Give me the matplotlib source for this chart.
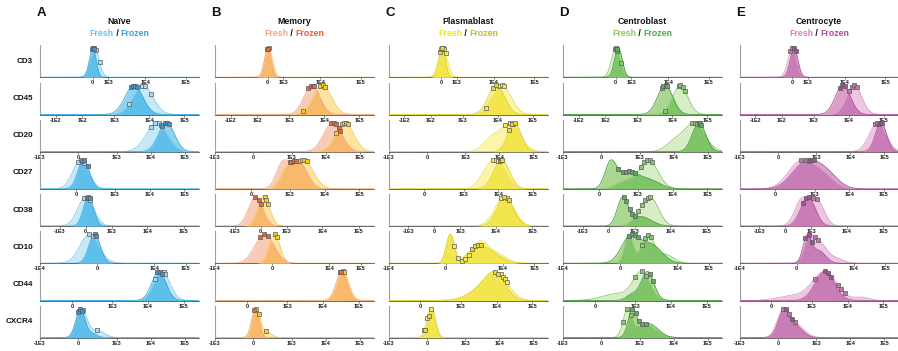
import numpy as np
import matplotlib
matplotlib.use("Agg")
import matplotlib.pyplot as plt

plt.rcParams['font.family'] = ['Liberation Sans', 'DejaVu Sans']

# ---------------------------------------------------------------- data
MARKERS = ["CD3", "CD45", "CD20", "CD27", "CD38", "CD10", "CD44", "CXCR4"]
POPULATIONS = ["Naïve", "Memory", "Plasmablast", "Centroblast", "Centrocyte"]
PANEL_LETTERS = ["A", "B", "C", "D", "E"]

# arcsinh (biexponential-like) display settings per marker
COFACTOR = [1000, 100, 150, 150, 400, 300, 150, 150]
AXIS_MIN = [-10000, -330, -1000, -800, -3600, -10000, -570, -1000]
AXIS_MAX = [210000, 262144, 262144, 262144, 262144, 262144, 262144, 262144]

TICK_VALUES = [
    [0, 1e3, 1e4, 1e5],
    [-1e2, 1e2, 1e3, 1e4, 1e5],
    [-1e3, 0, 1e3, 1e4, 1e5],
    [0, 1e3, 1e4, 1e5],
    [-1e3, 0, 1e3, 1e4, 1e5],
    [-1e4, 0, 1e4, 1e5],
    [0, 1e3, 1e4, 1e5],
    [-1e3, 0, 1e3, 1e4, 1e5],
]
TICK_LABELS = [
    ["0", "1E3", "1E4", "1E5"],
    ["-1E2", "1E2", "1E3", "1E4", "1E5"],
    ["-1E3", "0", "1E3", "1E4", "1E5"],
    ["0", "1E3", "1E4", "1E5"],
    ["-1E3", "0", "1E3", "1E4", "1E5"],
    ["-1E4", "0", "1E4", "1E5"],
    ["0", "1E3", "1E4", "1E5"],
    ["-1E3", "0", "1E3", "1E4", "1E5"],
]

# histogram modes per marker: (intensity, spread in display channels /1000, weight)
NAIVE_FRESH = [
    [(100, 28, 1.0)],
    [(6500, 62, 1.0)],
    [(15000, 66, 1.0)],
    [(50, 50, 1.0)],
    [(0, 50, 1.0)],
    [(-180, 60, 1.0)],
    [(24000, 50, 1.0)],
    [(30, 34, 1.0), (250, 45, 0.25)],
]
NAIVE_FROZEN = [
    [(0, 21, 1.0)],
    [(3600, 56, 1.0)],
    [(29000, 50, 1.0)],
    [(80, 36, 1.0)],
    [(70, 32, 1.0)],
    [(-60, 36, 1.0)],
    [(20000, 45, 1.0)],
    [(20, 28, 1.0), (150, 34, 0.15)],
]
NAIVE_FRESH_PTS = [[100, 200, 400], [2600, 6000, 7500, 11000], [10000, 13000, 17000, 20000],
                   [20, 50, 90], [-50, 50, 100], [-180, -100], [16000, 27000, 30000], [10, 50, 250]]
NAIVE_FROZEN_PTS = [[-50, 0, 50], [2900, 3300, 3800, 4300], [22000, 26000, 30000, 35000],
                    [60, 90, 130], [30, 70, 110], [-60, -20], [18000, 21000, 24000], [0, 20, 40]]

MEMORY_FRESH = [
    [(50, 24, 1.0)],
    [(8700, 57, 1.0)],
    [(36000, 57, 1.0)],
    [(800, 40, 0.6), (2500, 60, 1.0)],
    [(75, 38, 1.0)],
    [(50, 34, 1.0)],
    [(36000, 36, 1.0)],
    [(30, 24, 1.0), (150, 32, 0.2)],
]
MEMORY_FROZEN = [
    [(0, 21, 1.0)],
    [(4400, 50, 1.0)],
    [(16000, 57, 1.0)],
    [(600, 40, 0.9), (1800, 52, 1.0)],
    [(-130, 44, 1.0)],
    [(-180, 60, 1.0)],
    [(33000, 35, 1.0)],
    [(20, 24, 1.0)],
]
MEMORY_FRESH_PTS = [[0, 80], [2500, 7500, 9000, 10500], [20000, 30000, 35000, 40000, 45000],
                    [1800, 2200, 2600, 3000], [100, 150, 200], [50, 100], [35000, 38000], [30, 60, 150]]
MEMORY_FROZEN_PTS = [[-30, 30], [3500, 4000, 4600, 5000], [14000, 17000, 20000, 24000, 27000],
                     [1000, 1100, 1300, 1500], [-150, -50, 0], [-300, -200, -100], [30000, 32000], [10]]

PLASMABLAST_FRESH = [
    [(100, 28, 1.0)],
    [(13000, 58, 1.0)],
    [(22000, 60, 1.0), (6000, 52, 0.45)],
    [(9000, 58, 1.0), (4000, 44, 0.3)],
    [(17000, 60, 1.0)],
    [(100, 25, 0.95), (1800, 50, 0.65), (6000, 63, 0.3)],
    [(10000, 72, 1.0), (3000, 78, 0.3)],
    [(40, 27, 1.0)],
]
PLASMABLAST_FROZEN = [
    [(50, 21, 1.0)],
    [(9000, 52, 1.0)],
    [(28000, 42, 1.0)],
    [(12500, 50, 1.0)],
    [(18000, 52, 1.0)],
    [(100, 25, 1.0), (1500, 63, 0.55), (5000, 63, 0.25)],
    [(9000, 65, 1.0), (3000, 78, 0.3)],
    [(50, 24, 1.0)],
]
PLASMABLAST_FRESH_PTS = [[80, 150, 250], [4500, 11000, 13000, 15000], [15000, 21000, 26000],
                         [7000, 8500, 10000], [14000, 20000], [200, 300, 450, 600, 800],
                         [13000, 15000, 17000, 19000], [-30, 0, 40]]
PLASMABLAST_FROZEN_PTS = [[-50, 0, 50], [7000, 9000], [20000, 24000, 30000],
                          [11000, 12000, 13000], [17000, 23000], [1000, 1300, 1600, 2000],
                          [9000, 11000], [-15, 20]]

CENTROBLAST_FRESH = [
    [(0, 27, 1.0)],
    [(16700, 48, 1.0)],
    [(40000, 66, 1.0), (10000, 52, 0.3)],
    [(2000, 60, 1.0), (400, 55, 0.25)],
    [(2800, 52, 1.0), (1200, 40, 0.2)],
    [(200, 26, 1.0), (1100, 40, 0.95), (4000, 52, 0.3)],
    [(1500, 52, 1.0), (300, 95, 0.25)],
    [(420, 27, 1.0), (1500, 65, 0.5)],
]
CENTROBLAST_FROZEN = [
    [(150, 24, 1.0)],
    [(6200, 48, 1.0)],
    [(55000, 42, 1.0)],
    [(130, 36, 1.0), (500, 60, 0.6), (2000, 70, 0.35)],
    [(400, 34, 1.0), (1500, 65, 0.35)],
    [(250, 58, 0.75), (1500, 65, 0.5)],
    [(2200, 40, 1.0), (800, 34, 0.2)],
    [(600, 27, 0.9), (1800, 60, 0.5)],
]
CENTROBLAST_FRESH_PTS = [[-50, 0, 300], [6000, 15000, 17000, 20000, 23000], [35000, 42000, 48000],
                         [1200, 1500, 1800, 2200, 2600], [1250, 1600, 2000, 2400, 2800],
                         [700, 900, 1100, 1400], [1000, 1500, 2000], [300, 420, 550]]
CENTROBLAST_FROZEN_PTS = [[50, 100], [5000, 5500, 6500, 7000], [55000, 60000, 65000],
                          [250, 350, 450, 550, 650, 800], [450, 550, 700, 850, 1000],
                          [200, 300, 400, 500], [2600, 3200], [600, 750, 950, 1200, 1500]]

CENTROCYTE_FRESH = [
    [(0, 27, 1.0)],
    [(14000, 48, 1.0)],
    [(64000, 52, 1.0)],
    [(350, 76, 1.0), (1500, 76, 0.6)],
    [(500, 44, 0.95), (1500, 44, 0.9)],
    [(300, 32, 0.85), (750, 44, 0.8), (2500, 50, 0.2)],
    [(2300, 76, 0.9), (25000, 45, 0.1), (300, 95, 0.15)],
    [(50, 38, 1.0), (220, 55, 0.55)],
]
CENTROCYTE_FROZEN = [
    [(100, 24, 1.0)],
    [(6700, 48, 1.0)],
    [(80000, 35, 1.0)],
    [(500, 82, 0.85), (2000, 76, 0.55)],
    [(800, 46, 1.0)],
    [(250, 26, 1.0), (700, 44, 0.5)],
    [(2300, 60, 1.0)],
    [(60, 36, 1.0), (200, 50, 0.5)],
]
CENTROCYTE_FRESH_PTS = [[-100, 0], [10000, 12000, 14000, 17000], [55000, 62000],
                        [400, 550, 700], [1100, 1500], [550, 700], [1200, 5500, 6500, 8500],
                        [50, 130, 220]]
CENTROCYTE_FROZEN_PTS = [[100, 200], [5500, 6500, 7500], [70000, 78000, 85000],
                         [750, 850, 950], [550, 700, 850], [200, 300, 400], [2300, 2800, 3500],
                         [90, 170]]

POP_DATA = [
    (NAIVE_FRESH, NAIVE_FROZEN, NAIVE_FRESH_PTS, NAIVE_FROZEN_PTS),
    (MEMORY_FRESH, MEMORY_FROZEN, MEMORY_FRESH_PTS, MEMORY_FROZEN_PTS),
    (PLASMABLAST_FRESH, PLASMABLAST_FROZEN, PLASMABLAST_FRESH_PTS, PLASMABLAST_FROZEN_PTS),
    (CENTROBLAST_FRESH, CENTROBLAST_FROZEN, CENTROBLAST_FRESH_PTS, CENTROBLAST_FROZEN_PTS),
    (CENTROCYTE_FRESH, CENTROCYTE_FROZEN, CENTROCYTE_FRESH_PTS, CENTROCYTE_FROZEN_PTS),
]

# ---------------------------------------------------------------- styles
STYLES = [
    dict(fresh_fill='#c6e9f7', frozen_fill='#90d3f0', overlap='#5ec0ea',
         fresh_line='#86cdec', frozen_line='#3daee2',
         fresh_mk='#a5dcf3', frozen_mk='#3f93c8',
         fresh_txt='#5ec6ee', frozen_txt='#3b9fd8'),
    dict(fresh_fill='#fde4a2', frozen_fill='#f8cbb8', overlap='#f9b96a',
         fresh_line='#f6cd62', frozen_line='#f2a88c',
         fresh_mk='#f6d21c', frozen_mk='#e9653a',
         fresh_txt='#f6a27e', frozen_txt='#ef5b2c'),
    dict(fresh_fill='#fbf4aa', frozen_fill='#f6ee80', overlap='#f2e54e',
         fresh_line='#ece06a', frozen_line='#e3d52c',
         fresh_mk='#f5ea5a', frozen_mk='#eadb2c',
         fresh_txt='#f2e41c', frozen_txt='#c8bb2c'),
    dict(fresh_fill='#d7edc6', frozen_fill='#aad890', overlap='#7fc466',
         fresh_line='#8cc872', frozen_line='#4a9f44',
         fresh_mk='#8cc47a', frozen_mk='#66a56a',
         fresh_txt='#8acb52', frozen_txt='#48a948'),
    dict(fresh_fill='#edc6e1', frozen_fill='#dc9fcb', overlap='#c97db6',
         fresh_line='#d9a0cb', frozen_line='#b35a9f',
         fresh_mk='#b97aab', frozen_mk='#9c5590',
         fresh_txt='#df80c4', frozen_txt='#b9449c'),
]

FIG_W, FIG_H = 898, 351
COL_LEFT = [40, 215, 388.5, 563, 739.5]
COL_WIDTH = 159
ROW_BASE0 = 77.3
ROW_STEP = 37.2
PANEL_H = 32

fig = plt.figure(figsize=(FIG_W / 100, FIG_H / 100), dpi=100)


def minor_ticks(lo, hi):
    vals = []
    for d in [1e1, 1e2, 1e3, 1e4, 1e5]:
        for k in range(2, 10):
            for s in (1, -1):
                v = s * k * d
                if lo < v < hi:
                    vals.append(v)
    return sorted(vals)


def draw_panel(ax, row, fresh, frozen, fresh_pts, frozen_pts, st):
    c = COFACTOR[row]
    lo, hi = AXIS_MIN[row], AXIS_MAX[row]

    def fwd(v):
        return np.arcsinh(np.asarray(v, dtype=float) / c)

    def inv(u):
        return c * np.sinh(np.asarray(u, dtype=float))

    ax.set_xscale('function', functions=(fwd, inv))
    ax.set_xlim(lo, hi)
    ax.set_ylim(0, 1.1)

    u0, u1 = float(fwd(lo)), float(fwd(hi))
    u = np.linspace(u0, u1, 900)
    ch = (u - u0) / (u1 - u0) * 1000.0
    x = inv(u)

    def to_ch(v):
        return (fwd(v) - u0) / (u1 - u0) * 1000.0

    def density(comps):
        y = np.zeros_like(ch)
        for center, spread, w in comps:
            y += w * np.exp(-0.5 * ((ch - to_ch(center)) / spread) ** 2)
        return y / y.max()

    yf = density(fresh)
    yz = density(frozen)
    ax.fill_between(x, 0, yf, color=st['fresh_fill'], lw=0, zorder=1)
    ax.fill_between(x, 0, yz, color=st['frozen_fill'], lw=0, zorder=2)
    ax.fill_between(x, 0, np.minimum(yf, yz), color=st['overlap'], lw=0, zorder=3)
    ax.plot(x, yf, color=st['fresh_line'], lw=0.6, zorder=4)
    ax.plot(x, yz, color=st['frozen_line'], lw=0.6, zorder=4)

    for pts, y, mk in ((fresh_pts, yf, st['fresh_mk']), (frozen_pts, yz, st['frozen_mk'])):
        px = np.asarray(pts, dtype=float)
        py = np.interp(to_ch(px), ch, y)
        ax.plot(px, py, 's', ms=3.0, mfc=mk, mec='#5a5a5a', mew=0.5,
                clip_on=False, zorder=6)

    ax.set_yticks([])
    for side in ('top', 'right'):
        ax.spines[side].set_visible(False)
    ax.spines['left'].set_color('#a0a0a0')
    ax.spines['left'].set_linewidth(0.8)
    ax.spines['bottom'].set_color('#555555')
    ax.spines['bottom'].set_linewidth(0.6)
    ax.set_xticks(TICK_VALUES[row], labels=TICK_LABELS[row],
                  fontsize=4, fontweight='bold')
    ax.set_xticks(minor_ticks(lo, hi), minor=True)
    ax.tick_params(axis='x', which='major', length=1.6, width=0.5, pad=0.6,
                   color='#444444', labelcolor='#222222')
    ax.tick_params(axis='x', which='minor', length=1.0, width=0.35, color='#777777')
    ax.patch.set_alpha(0)


for col, (fresh_all, frozen_all, fpts_all, zpts_all) in enumerate(POP_DATA):
    st = STYLES[col]
    left = COL_LEFT[col]
    for row in range(len(MARKERS)):
        base = ROW_BASE0 + ROW_STEP * row
        ax = fig.add_axes([left / FIG_W, 1 - base / FIG_H,
                           COL_WIDTH / FIG_W, PANEL_H / FIG_H])
        draw_panel(ax, row, fresh_all[row], frozen_all[row],
                   fpts_all[row], zpts_all[row], st)

# row labels
for row, name in enumerate(MARKERS):
    base = ROW_BASE0 + ROW_STEP * row
    fig.text(33 / FIG_W, 1 - (base - 16) / FIG_H, name, ha='right', va='center',
             fontsize=5.8, fontweight='bold', color='#111111')

# column headers
renderer = fig.canvas.get_renderer()
for col, (letter, pop) in enumerate(zip(PANEL_LETTERS, POPULATIONS)):
    st = STYLES[col]
    left = COL_LEFT[col]
    fig.text((left - 3.5) / FIG_W, 1 - 13.5 / FIG_H, letter, ha='left', va='center',
             fontsize=9.5, fontweight='bold', color='#111111')
    cx = left + COL_WIDTH / 2
    fig.text(cx / FIG_W, 1 - 21.5 / FIG_H, pop, ha='center', va='center',
             fontsize=6.3, fontweight='bold', color='#111111')
    parts = [("Fresh", st['fresh_txt']), (" / ", '#111111'), ("Frozen", st['frozen_txt'])]
    texts = [fig.text(0, 1 - 33 / FIG_H, s, ha='left', va='center', fontsize=6.3,
                      fontweight='bold', color=colr) for s, colr in parts]
    widths = [t.get_window_extent(renderer).width for t in texts]
    xpos = cx - sum(widths) / 2
    for t, w in zip(texts, widths):
        t.set_x(xpos / FIG_W)
        xpos += w

fig.savefig("out.png", dpi=100)
